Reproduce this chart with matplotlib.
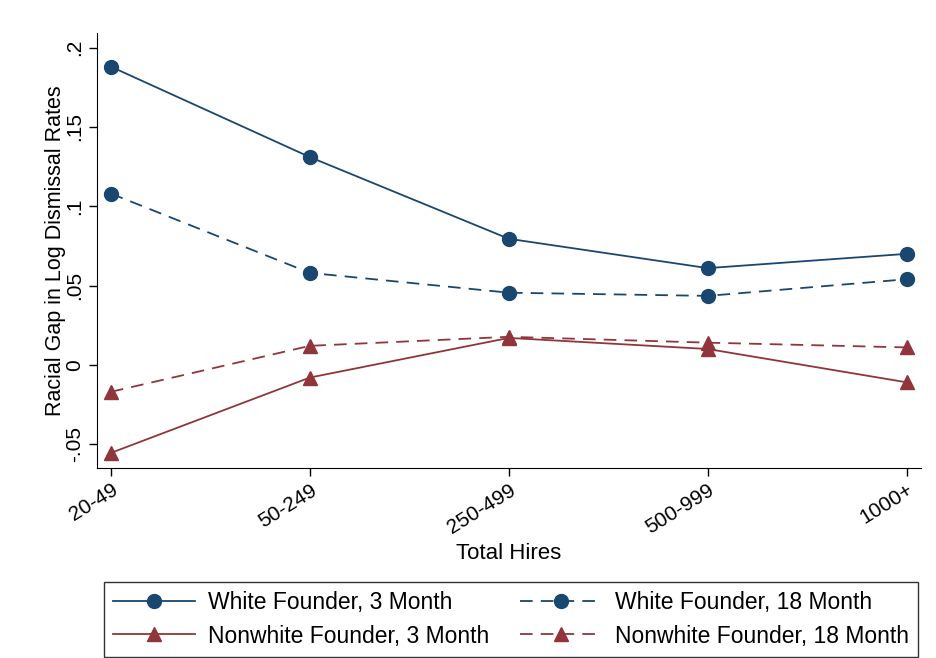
import numpy as np
import matplotlib.pyplot as plt

plt.rcParams["font.family"] = ["Liberation Sans", "DejaVu Sans"]

# Data
categories = ["20-49", "50-249", "250-499", "500-999", "1000+"]
white_3m = [0.188, 0.131, 0.0795, 0.061, 0.070]
white_18m = [0.108, 0.058, 0.0455, 0.0435, 0.054]
nonwhite_3m = [-0.0555, -0.008, 0.017, 0.010, -0.011]
nonwhite_18m = [-0.017, 0.012, 0.0177, 0.014, 0.011]
yticks = [-0.05, 0, 0.05, 0.1, 0.15, 0.2]
ytick_labels = ["-.05", "0", ".05", ".1", ".15", ".2"]

navy = "#1a476f"
maroon = "#90353b"

fig = plt.figure(figsize=(9.36, 6.58), dpi=100)
ax = fig.add_axes([0.1036, 0.2888, 0.88, 0.6612])

x = np.arange(len(categories))
dash = (0, (7, 4.5))
ax.plot(x, white_3m, color=navy, ls="-", lw=1.3, marker="o", ms=10,
        label="White Founder, 3 Month")
ax.plot(x, white_18m, color=navy, ls=dash, lw=1.3, marker="o", ms=10,
        label="White Founder, 18 Month")
ax.plot(x, nonwhite_3m, color=maroon, ls="-", lw=1.3, marker="^", ms=10,
        label="Nonwhite Founder, 3 Month")
ax.plot(x, nonwhite_18m, color=maroon, ls=dash, lw=1.3, marker="^", ms=10,
        label="Nonwhite Founder, 18 Month")

ax.set_xlim(-0.07, 4.07)
ax.set_ylim(-0.065, 0.2093)
ax.set_xticks(x)
ax.set_xticklabels(categories, rotation=32, ha="right", rotation_mode="anchor",
                   fontsize=15)
ax.set_yticks(yticks)
ax.set_yticklabels(ytick_labels, rotation=90, va="center", fontsize=15)
ax.tick_params(axis="both", length=5.5, width=1, color="black")
ax.tick_params(axis="y", pad=3.5)

for side in ["top", "right"]:
    ax.spines[side].set_visible(False)

ax.set_xlabel("Total Hires", fontsize=16, labelpad=4)
ax.set_ylabel("Racial Gap in Log Dismissal Rates", fontsize=15.5)
ax.yaxis.set_label_coords(-0.038, 0.5)

# Legend
handles, labels = ax.get_legend_handles_labels()
order = [0, 2, 1, 3]
leg = fig.legend([handles[i] for i in order], [labels[i] for i in order],
                 ncol=2, loc="lower center", bbox_to_anchor=(0.546, 0.002),
                 fontsize=16.5, frameon=True, fancybox=False, edgecolor="black",
                 handlelength=3.6, handletextpad=0.55, borderaxespad=0,
                 columnspacing=1.35, borderpad=0.4, labelspacing=0.45)
leg.get_frame().set_linewidth(1.0)

fig.savefig("out.png", dpi=100)
